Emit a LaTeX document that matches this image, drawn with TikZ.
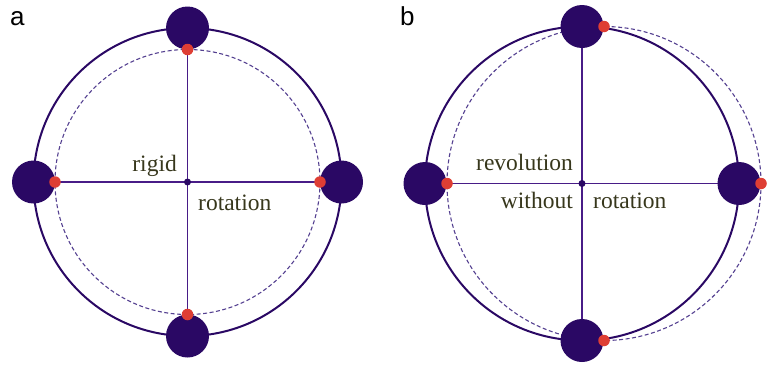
\documentclass[tikz,border=0pt]{standalone}
\usepackage{fontspec}
\setmainfont{Liberation Serif}
\newfontfamily\panelfont{Liberation Sans}
\usetikzlibrary{backgrounds}
\definecolor{ballpurple}{RGB}{42,8,100}
\definecolor{spokepurple}{RGB}{72,28,135}
\definecolor{dashpurple}{RGB}{85,65,145}
\definecolor{dotred}{RGB}{222,62,52}
\definecolor{wordolive}{RGB}{55,55,28}

\begin{document}
\begin{tikzpicture}[x=1pt,y=-1pt,
  ball/.style={circle,fill=ballpurple,inner sep=0pt,minimum size=43pt},
  reddot/.style={circle,fill=dotred,inner sep=0pt,minimum size=11.5pt},
  hub/.style={circle,fill=ballpurple,inner sep=0pt,minimum size=7pt},
  orbit/.style={draw=ballpurple,line width=2pt},
  trace/.style={draw=dashpurple,line width=1.1pt,dash pattern=on 4pt off 2.5pt},
  spoke/.style={draw=spokepurple,line width=1.6pt},
  word/.style={inner sep=0pt,text=wordolive,font=\fontsize{23.5}{28}\selectfont},
  panel/.style={inner sep=0pt,anchor=base west,font=\panelfont\fontsize{26}{30}\selectfont}]
  \useasboundingbox (0,0) rectangle (768,367);

  % a: rigid rotation
  \draw[orbit] (187.5,182) circle (154);
  \draw[trace] (187.5,182) circle (132.5);
  \node[hub] (ca) at (187.5,182) {};
  \node[ball] (aT) at (187.5,28) {};
  \node[ball] (aB) at (187.5,336) {};
  \node[ball] (aL) at (33.5,182) {};
  \node[ball] (aR) at (341.5,182) {};
  \node[reddot] (raT) at (187.5,49.5) {};
  \node[reddot] (raB) at (187.5,314.5) {};
  \node[reddot] (raL) at (55,182) {};
  \node[reddot] (raR) at (320,182) {};
  \node[word,anchor=base east] (rigid) at (177,171.5) {rigid};
  \node[word,anchor=base west] (rota) at (198,210.5) {rotation};
  \node[panel] (la) at (10,25) {a};

  % b: revolution without rotation
  \draw[orbit] (582,183.5) circle (157);
  \draw[trace] (604,183.5) circle (157);
  \node[hub] (cb) at (582,183.5) {};
  \node[ball] (bT) at (582,26.5) {};
  \node[ball] (bB) at (582,340.5) {};
  \node[ball] (bL) at (425,183.5) {};
  \node[ball] (bR) at (739,183.5) {};
  \node[reddot] (rbT) at (604,26.5) {};
  \node[reddot] (rbB) at (604,340.5) {};
  \node[reddot] (rbL) at (447,183.5) {};
  \node[reddot] (rbR) at (761,183.5) {};
  \node[word,anchor=base east] (revo) at (573,170) {revolution};
  \node[word,anchor=base east] (without) at (573,208.5) {without};
  \node[word,anchor=base west] (rotb) at (593,208.5) {rotation};
  \node[panel] (lb) at (400,25) {b};

  \begin{pgfonlayer}{background}
    \draw[spoke] (aL.center) -- (aR.center);
    \draw[spoke] (aT.center) -- (aB.center);
    \draw[spoke] (bL.center) -- (bR.center);
    \draw[spoke] (bT.center) -- (bB.center);
  \end{pgfonlayer}
\end{tikzpicture}
\end{document}
